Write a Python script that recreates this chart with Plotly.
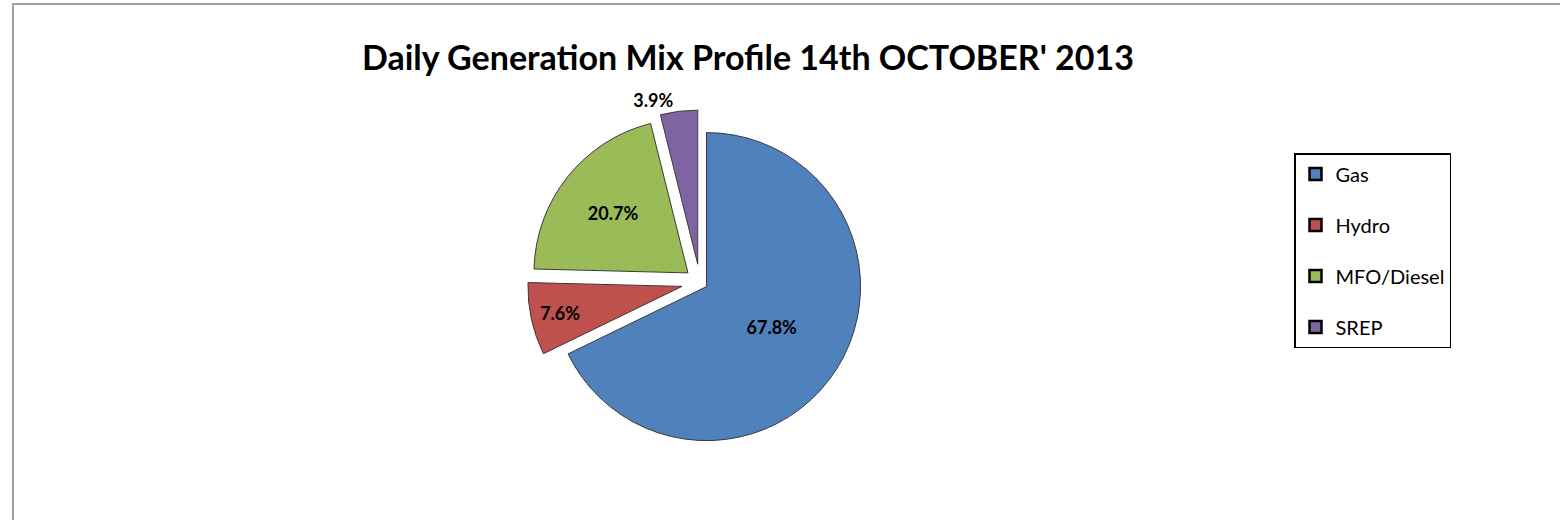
import plotly.graph_objects as go

labels = ["Gas", "Hydro", "MFO/Diesel", "SREP"]
values = [67.8, 7.6, 20.7, 3.9]
colors = ["#4F81BD", "#C0504D", "#9BBB59", "#8064A2"]
pulls = [0.05, 0.12, 0.1, 0.12]
title_text = "Daily Generation Mix Profile 14th OCTOBER' 2013"

W, H = 1560, 520

fig = go.Figure()
fig.add_trace(go.Pie(
    labels=labels,
    values=values,
    sort=False,
    direction="clockwise",
    rotation=0,
    pull=pulls,
    marker=dict(colors=colors, line=dict(color="#3a3a3a", width=1)),
    texttemplate="%{value:.1f}%",
    textposition=["inside", "inside", "inside", "outside"],
    insidetextorientation="horizontal",
    textfont=dict(family="Lato", size=18, color="black", weight="bold"),
    outsidetextfont=dict(family="Lato", size=18, color="black", weight="bold"),
    domain=dict(x=[(700 - 300) / W, (700 + 300) / W], y=[1 - 455 / H, 1 - 110 / H]),
    showlegend=False,
    hoverinfo="label+percent",
))

# legend entries
for lab, col in zip(labels, colors):
    fig.add_trace(go.Scatter(
        x=[None], y=[None], mode="markers", name=lab, legendgroup=lab,
        marker=dict(symbol="square", size=12, color=col, line=dict(color="black", width=2.5)),
        showlegend=True,
    ))

fig.update_layout(
    width=W, height=H,
    margin=dict(l=0, r=0, t=0, b=0, autoexpand=False),
    paper_bgcolor="white", plot_bgcolor="white",
    xaxis=dict(visible=False), yaxis=dict(visible=False),
    title=dict(text=title_text, x=748 / W, xanchor="center", y=1 - 58 / H, yanchor="middle",
               font=dict(family="Lato", size=34, color="black", weight="bold")),
    legend=dict(x=1294 / W, y=1 - 153 / H, xanchor="left", yanchor="top",
                bordercolor="black", borderwidth=1.5, bgcolor="white",
                font=dict(family="Lato", size=20, color="black"),
                tracegroupgap=22, itemwidth=30),
    shapes=[dict(type="rect", xref="paper", yref="paper",
                 x0=13 / W, x1=1.02, y0=-0.02, y1=1 - 4 / H,
                 line=dict(color="#a0a0a0", width=2))],
)

fig.write_html("out.html", config={"displayModeBar": False},
               post_script="document.body.style.margin='0';")
